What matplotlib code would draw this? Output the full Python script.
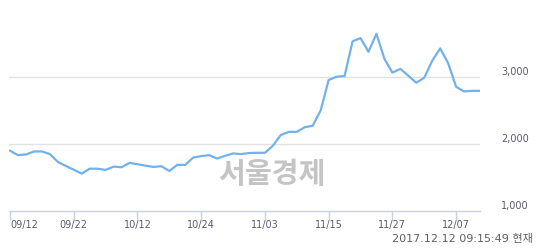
import matplotlib
matplotlib.use("Agg")
import matplotlib.pyplot as plt
import numpy as np

# daily closing prices, 09/12 .. 12/12 (trading days)
prices = [1899, 1833, 1843, 1888, 1888, 1849, 1732, 1671, 1615, 1555,
          1630, 1630, 1611, 1661, 1652, 1717, 1697, 1676, 1656, 1667,
          1596, 1687, 1687, 1797, 1818, 1833, 1782, 1823, 1858, 1849,
          1864, 1868, 1868, 1974, 2136, 2182, 2182, 2252, 2273, 2505,
          2959, 3009, 3020, 3539, 3588, 3383, 3651, 3277, 3070, 3126,
          3024, 2918, 2994, 3247, 3433, 3212, 2858, 2788, 2797, 2797]
tick_pos = [0, 8, 16, 24, 32, 40, 48, 56]
tick_labels = ["09/12", "09/22", "10/12", "10/24", "11/03", "11/15", "11/27", "12/07"]
y_ticks = [1000, 2000, 3000]
y_labels = ["1,000", "2,000", "3,000"]
stamp = "2017.12.12 09:15:49 현재"
watermark = "서울경제"

fig = plt.figure(figsize=(5.4, 2.48), dpi=100)
ax = fig.add_axes([9.3/540, 37.3/248, 470.7/540, 205.7/248])

x = np.arange(len(prices))
ax.plot(x, prices, color="#72b1ea", lw=1.6, solid_joinstyle="round", zorder=3)

ax.set_xlim(-0.09, len(prices) - 1)
ax.set_ylim(1000, 4084)

for s in ["top", "left", "right"]:
    ax.spines[s].set_visible(False)
ax.spines["bottom"].set_color("#c8d1e6")
ax.spines["bottom"].set_linewidth(1)

ax.set_xticks(tick_pos)
ax.set_xticklabels(tick_labels, fontsize=7, color="#5a5a6e", family="DejaVu Sans")
ax.tick_params(axis="x", length=6.5, width=1, color="#c8d1e6", pad=0)
ax.get_xticklabels()[0].set_horizontalalignment("left")

ax.yaxis.tick_right()
ax.set_yticks(y_ticks)
ax.set_yticklabels(y_labels, fontsize=7, color="#5a5a6e", family="DejaVu Sans")
ax.tick_params(axis="y", length=0, pad=35.3)
for t in ax.get_yticklabels():
    t.set_horizontalalignment("right")
    t.set_verticalalignment("bottom")

for v in y_ticks[1:]:
    ax.axhline(v, color="#e2e2e2", lw=1, zorder=1)

fig.text(271.5/540, 1 - 173.5/248, watermark, ha="center", va="center",
         fontsize=21, fontweight="bold", color="#c4c4c4",
         family=["Noto Sans CJK KR"])
fig.text(533/540, 1 - 238.5/248, stamp, ha="right", va="center",
         fontsize=8, color="#606060", family=["DejaVu Sans", "Noto Sans CJK KR"])

fig.savefig("out.png", dpi=100)
